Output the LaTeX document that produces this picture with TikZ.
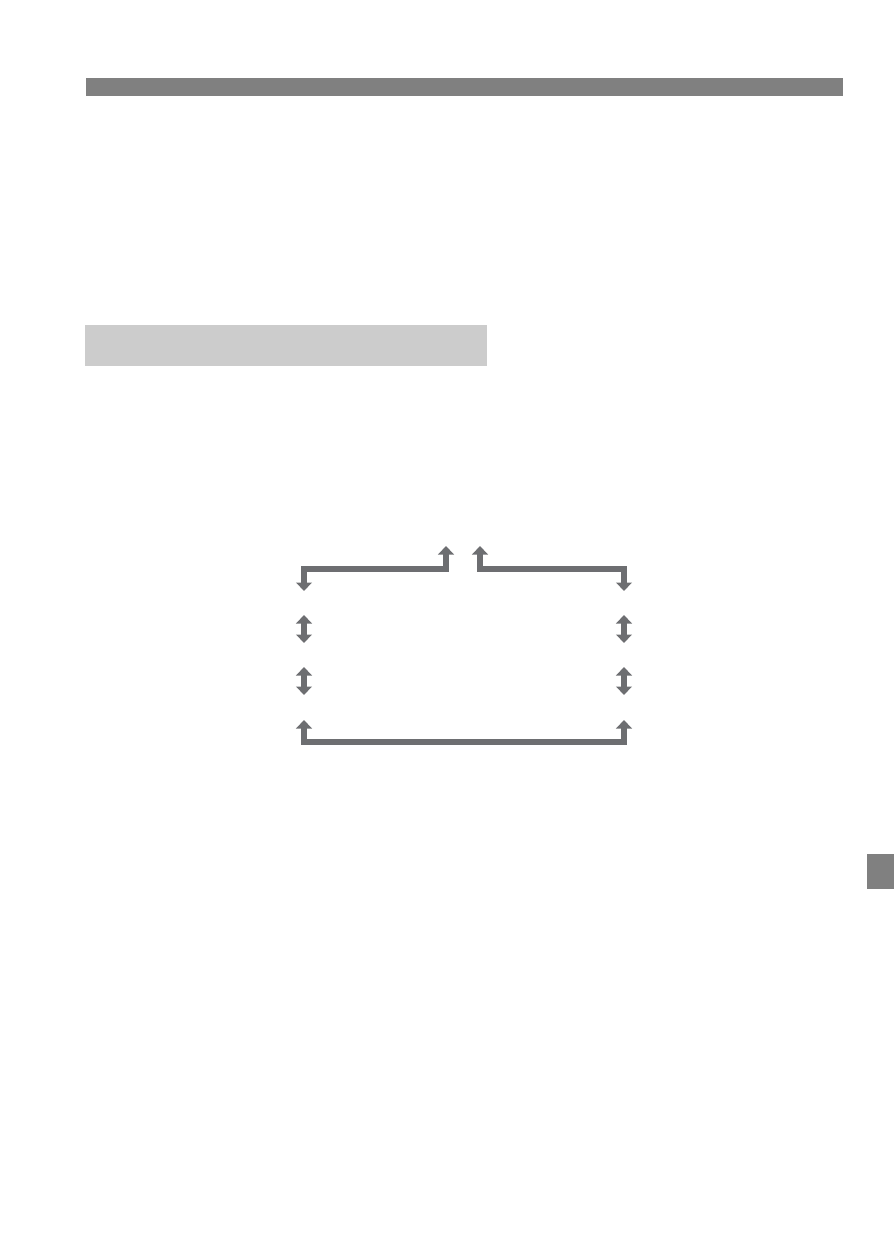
\documentclass[tikz,border=0pt]{standalone}
\usepackage{tikz}
\usetikzlibrary{arrows.meta, positioning}

\definecolor{bargray}{HTML}{808080}
\definecolor{boxgray}{HTML}{CCCCCC}
\definecolor{arrowgray}{HTML}{6D6E71}

\begin{document}
\begin{tikzpicture}[x=0.02cm, y=-0.02cm,
        tip/.tip={Triangle[width=0.31cm, length=0.17cm]},
        flow/.style={draw=arrowgray, line width=0.11cm, tip-tip}]
        \useasboundingbox (0,0) rectangle (894,1260);
        % header bar, section box, side tab
        \fill[bargray] (86,78) rectangle (843,96);
        \fill[boxgray] (85,325) rectangle (487,366);
        \fill[bargray] (867,854) rectangle (894,889);
        % end points of the loop
        \coordinate (LeftDown) at (304,591);
        \coordinate (LeftUp) at (446,546);
        \coordinate (LeftBend) at (446,569);
        \coordinate (RightUp) at (480,546);
        \coordinate (RightBend) at (480,569);
        \coordinate (RightDown) at (624,591);
        \coordinate (BotLeft) at (304,720);
        \coordinate (BotBend) at (304,742);
        \coordinate (BotRight) at (624,720);
        \draw[flow] (LeftDown) |- (LeftBend) -- (LeftUp);
        \draw[flow] (RightUp) -- (RightBend) -| (RightDown);
        \draw[flow] (BotLeft) -- (BotBend) -| (BotRight);
        % up/down arrows on both sides
        \foreach \x/\side in {304/L, 624/R} {
            \foreach \y/\row in {615/A, 667/B} {
                \coordinate (\side\row top) at (\x,\y);
                \coordinate (\side\row bot) at (\x,\y+28);
                \draw[flow] (\side\row top) -- (\side\row bot);
            }
        }
    \end{tikzpicture}
\end{document}
